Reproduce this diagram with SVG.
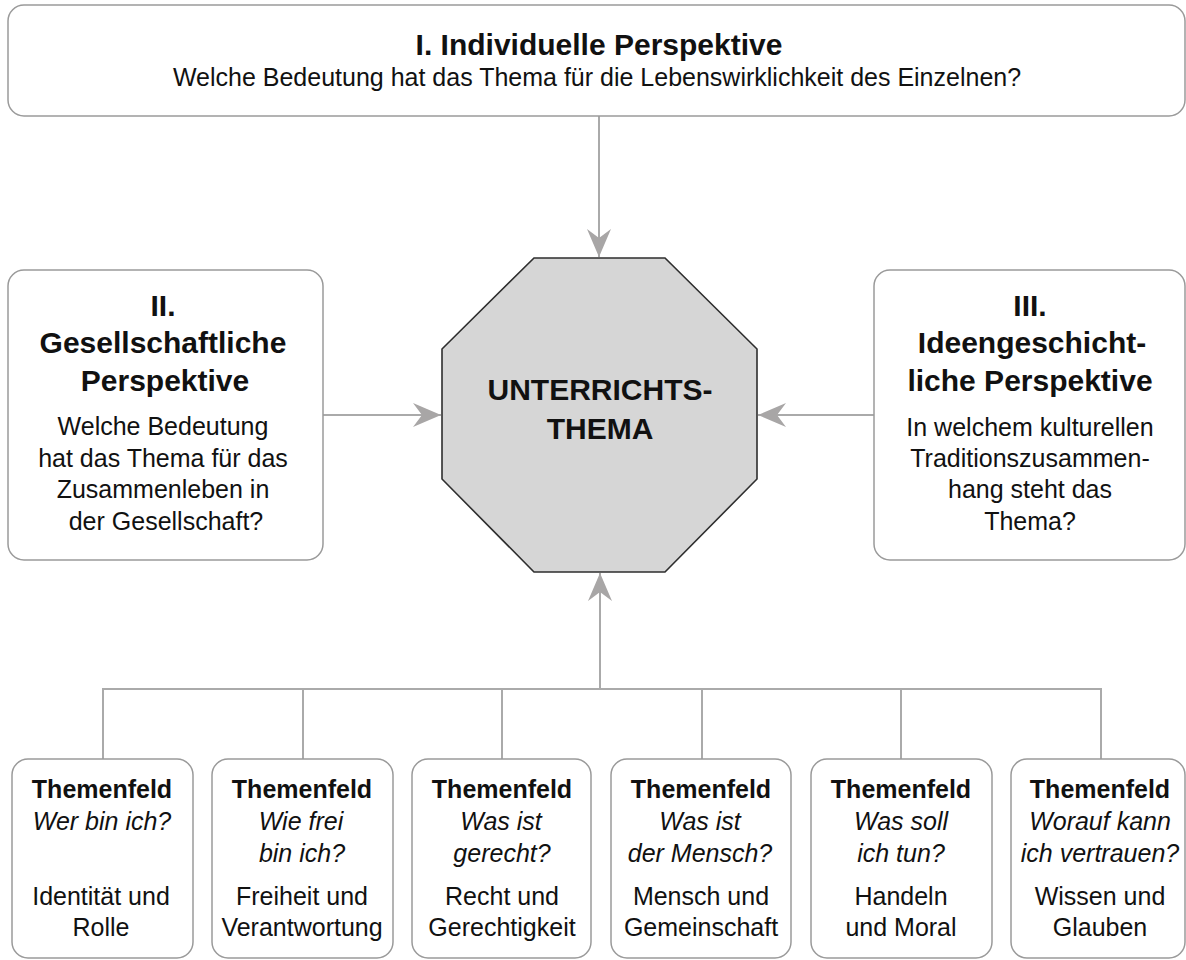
<svg xmlns="http://www.w3.org/2000/svg" width="1186" height="960" viewBox="0 0 1186 960">
<style>
  .box{fill:#fff;stroke:#9a9a9a;stroke-width:1.5}
  .oct{fill:#d6d6d6;stroke:#2e2e2e;stroke-width:1.6}
  .conn{fill:none;stroke:#aaaaaa;stroke-width:2}
  text{font-family:"Liberation Sans",Arial,Helvetica,sans-serif;fill:#111;text-anchor:middle}
  .t{font-size:30px;font-weight:bold}
  .b{font-size:25px}
  .h{font-size:25px;font-weight:bold}
  .i{font-size:25px;font-style:italic}
</style>
<defs>
  <marker id="ah" markerUnits="userSpaceOnUse" markerWidth="30" markerHeight="26" viewBox="-29 -13 30 26" refX="0" refY="0" orient="auto">
    <path d="M0,0 L-28,-12 L-19,0 L-28,12 Z" fill="#a8a6a6"/>
  </marker>
</defs>
<rect width="1186" height="960" fill="#fff"/>

<g id="connectors">
  <line class="conn" x1="599" y1="116" x2="599" y2="257" marker-end="url(#ah)"/>
  <line class="conn" x1="323" y1="415" x2="441" y2="415" marker-end="url(#ah)"/>
  <line class="conn" x1="874" y1="415" x2="758" y2="415" marker-end="url(#ah)"/>
  <line class="conn" x1="600" y1="689" x2="600" y2="573" marker-end="url(#ah)"/>
  <polyline class="conn" points="103,759 103,689 1101,689 1101,759"/>
  <line class="conn" x1="303" y1="689" x2="303" y2="759"/>
  <line class="conn" x1="502" y1="689" x2="502" y2="759"/>
  <line class="conn" x1="702" y1="689" x2="702" y2="759"/>
  <line class="conn" x1="901" y1="689" x2="901" y2="759"/>
</g>

<g id="perspektive-1">
  <rect class="box" x="8" y="5" width="1177" height="111" rx="16"/>
  <text class="t" x="599" y="55">I. Individuelle Perspektive</text>
  <text class="b" x="597" y="86">Welche Bedeutung hat das Thema für die Lebenswirklichkeit des Einzelnen?</text>
</g>

<g id="perspektive-2">
  <rect class="box" x="8" y="270" width="315" height="290" rx="16"/>
  <text class="t" x="163" y="316">II.</text>
  <text class="t" x="163" y="353">Gesellschaftliche</text>
  <text class="t" x="165" y="391">Perspektive</text>
  <text class="b" x="163" y="435">Welche Bedeutung</text>
  <text class="b" x="163" y="467">hat das Thema für das</text>
  <text class="b" x="163" y="498">Zusammenleben in</text>
  <text class="b" x="166" y="530">der Gesellschaft?</text>
</g>

<g id="perspektive-3">
  <rect class="box" x="874" y="270" width="311" height="290" rx="16"/>
  <text class="t" x="1030" y="316">III.</text>
  <text class="t" x="1032" y="353">Ideengeschicht-</text>
  <text class="t" x="1030" y="391">liche Perspektive</text>
  <text class="b" x="1030" y="436">In welchem kulturellen</text>
  <text class="b" x="1030" y="467">Traditionszusammen-</text>
  <text class="b" x="1030" y="498">hang steht das</text>
  <text class="b" x="1030" y="530">Thema?</text>
</g>

<g id="unterrichtsthema">
  <polygon class="oct" points="534,258 665,258 757,349 757,479 665,572 534,572 442,479 442,349"/>
  <text class="t" x="600" y="400">UNTERRICHTS-</text>
  <text class="t" x="600" y="439">THEMA</text>
</g>

<g id="themenfeld-1">
  <rect class="box" x="12" y="759" width="181" height="199" rx="16"/>
  <text class="h" x="102" y="798">Themenfeld</text>
  <text class="i" x="102" y="830">Wer bin ich?</text>
  <text class="b" x="101" y="905">Identität und</text>
  <text class="b" x="101" y="936">Rolle</text>
</g>

<g id="themenfeld-2">
  <rect class="box" x="212" y="759" width="181" height="199" rx="16"/>
  <text class="h" x="302" y="798">Themenfeld</text>
  <text class="i" x="301" y="830">Wie frei</text>
  <text class="i" x="302" y="862">bin ich?</text>
  <text class="b" x="302" y="905">Freiheit und</text>
  <text class="b" x="302" y="936">Verantwortung</text>
</g>

<g id="themenfeld-3">
  <rect class="box" x="412" y="759" width="179" height="199" rx="16"/>
  <text class="h" x="502" y="798">Themenfeld</text>
  <text class="i" x="501" y="830">Was ist</text>
  <text class="i" x="502" y="862">gerecht?</text>
  <text class="b" x="502" y="905">Recht und</text>
  <text class="b" x="502" y="936">Gerechtigkeit</text>
</g>

<g id="themenfeld-4">
  <rect class="box" x="611" y="759" width="180" height="199" rx="16"/>
  <text class="h" x="701" y="798">Themenfeld</text>
  <text class="i" x="700" y="830">Was ist</text>
  <text class="i" x="700" y="862">der Mensch?</text>
  <text class="b" x="701" y="905">Mensch und</text>
  <text class="b" x="701" y="936">Gemeinschaft</text>
</g>

<g id="themenfeld-5">
  <rect class="box" x="811" y="759" width="181" height="199" rx="16"/>
  <text class="h" x="901" y="798">Themenfeld</text>
  <text class="i" x="901" y="830">Was soll</text>
  <text class="i" x="901" y="862">ich tun?</text>
  <text class="b" x="901" y="905">Handeln</text>
  <text class="b" x="901" y="936">und Moral</text>
</g>

<g id="themenfeld-6">
  <rect class="box" x="1011" y="759" width="174" height="199" rx="16"/>
  <text class="h" x="1100" y="798">Themenfeld</text>
  <text class="i" x="1100" y="830">Worauf kann</text>
  <text class="i" x="1100" y="862">ich vertrauen?</text>
  <text class="b" x="1100" y="905">Wissen und</text>
  <text class="b" x="1100" y="936">Glauben</text>
</g>
</svg>
